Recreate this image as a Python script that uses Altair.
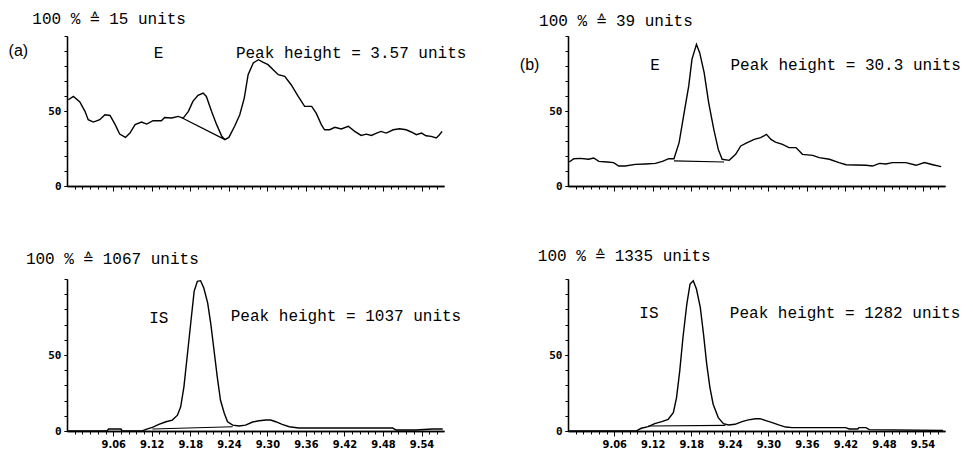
import altair as alt
import pandas as pd

# ---------------- axis definitions (retention time in seconds, 9.06 = 9 min 06 s) ----
X_DOMAIN = [538.8, 597.5]
major_values = [546, 552, 558, 564, 570, 576, 582, 588, 594]
tick_labels = ["9.06", "9.12", "9.18", "9.24", "9.30", "9.36", "9.42", "9.48", "9.54"]
minor_values = [round(540.0 + 1.2 * k, 1) for k in range(48)]
y_tick_values = [0, 10, 20, 30, 40, 50, 60, 70, 80, 90, 100]
y_label_values = [0, 50]

# ---------------- panel (a): E, 100 % = 15 units ----------------
a_t = [539.0, 539.8, 540.8, 541.6, 542.1, 542.9, 543.9, 544.7, 545.5, 546.3, 547.0, 547.9,
       548.6, 549.4, 550.4, 551.2, 552.2, 553.5, 554.0, 555.1, 556.1, 556.9, 557.7, 558.4,
       559.2, 560.0, 560.5, 561.3, 562.1, 562.9, 563.4, 564.0, 564.9, 565.7, 566.4, 567.0,
       567.8, 568.6, 569.3, 570.1, 570.9, 571.7, 572.7, 573.7, 574.8, 575.8, 576.9, 577.6,
       578.4, 578.9, 579.7, 580.5, 581.5, 582.6, 583.6, 584.6, 585.4, 586.2, 587.0, 587.7,
       588.5, 589.6, 590.6, 591.6, 592.4, 593.2, 594.0, 594.7, 595.5, 596.3, 596.8, 597.2]
a_y = [57.5, 59.7, 56.0, 49.8, 44.2, 42.6, 44.2, 47.5, 47.0, 40.9, 34.6, 32.4,
       35.3, 40.9, 42.6, 41.3, 43.5, 43.5, 45.7, 45.3, 46.4, 45.3, 49.8, 56.4,
       60.4, 62.0, 59.7, 49.8, 40.9, 33.1, 30.9, 32.4, 39.8, 47.5, 58.6, 74.2,
       82.0, 84.2, 82.6, 80.9, 77.5, 74.2, 73.1, 67.5, 59.7, 53.1, 53.1, 48.6,
       40.9, 37.5, 37.5, 39.1, 38.0, 39.8, 36.4, 33.7, 34.6, 33.7, 35.3, 36.4,
       35.3, 37.5, 38.2, 37.5, 36.0, 34.2, 35.3, 33.5, 33.1, 32.0, 34.2, 36.4]
a_base_t = [556.6, 563.4]
a_base_y = [45.7, 30.9]

# ---------------- panel (b): E, 100 % = 39 units ----------------
b_t = [539.0, 539.7, 540.7, 542.0, 542.8, 543.6, 544.9, 545.9, 546.7, 547.7, 549.3, 550.9,
       552.4, 553.5, 554.5, 555.3, 556.1, 556.8, 557.6, 558.1, 558.8, 559.3, 560.0, 560.7,
       561.5, 562.2, 562.8, 563.9, 564.9, 565.7, 566.7, 567.8, 568.8, 569.7, 570.4, 571.1,
       572.2, 573.2, 574.3, 575.3, 576.9, 577.9, 579.5, 581.0, 582.1, 583.6, 585.2, 586.2,
       587.3, 588.3, 589.3, 591.4, 593.0, 594.3, 595.6, 596.9]
b_y = [16.0, 18.2, 18.4, 17.8, 18.7, 16.4, 16.0, 15.6, 13.3, 13.3, 14.4, 14.7,
       15.1, 16.4, 18.2, 18.2, 28.9, 46.7, 66.7, 84.4, 94.4, 88.9, 75.6, 55.6,
       37.8, 24.4, 17.8, 17.1, 21.1, 26.7, 28.9, 31.1, 32.2, 34.4, 31.1, 29.3,
       27.8, 25.6, 25.6, 21.1, 20.4, 18.9, 17.8, 15.6, 14.2, 14.0, 13.8, 13.3,
       15.1, 14.7, 15.6, 15.6, 13.8, 15.6, 14.2, 12.9]
b_base_t = [555.3, 563.1]
b_base_y = [16.7, 16.0]

# ---------------- panel (a) lower: IS, 100 % = 1067 units ----------------
c_t = [539.0, 543.8, 545.0, 545.3, 547.2, 547.4, 550.5, 551.1, 552.1, 553.1, 554.2, 555.2,
       556.0, 556.5, 557.0, 557.5, 558.1, 558.6, 559.1, 559.6, 560.1, 560.7, 561.2, 561.7,
       562.2, 562.7, 563.3, 563.8, 564.6, 565.6, 566.6, 567.7, 568.7, 569.8, 570.5, 571.3,
       572.3, 573.4, 574.9, 580.1, 585.3, 589.5, 590.0, 593.1, 595.7, 597.3]
c_y = [0, 0, 0, 1.3, 1.3, 0, 0, 1.1, 2.4, 4.3, 6.1, 7.2,
       10.4, 15.9, 28.9, 48.5, 72.4, 92.0, 98.5, 98.9, 94.1, 84.3, 70.2, 52.8,
       35.4, 20.2, 11.5, 6.1, 3.9, 3.3, 3.9, 5.9, 6.7, 7.2, 7.2, 6.1,
       4.3, 2.8, 2.0, 2.0, 2.0, 2.0, 0.7, 0.7, 1.3, 1.3]
c_base_t = [552.1, 564.6]
c_base_y = [1.3, 2.8]

# ---------------- panel (b) lower: IS, 100 % = 1335 units ----------------
d_t = [539.0, 549.4, 550.2, 551.3, 552.3, 553.4, 554.4, 555.2, 555.7, 556.2, 556.7, 557.3,
       557.8, 558.3, 558.8, 559.4, 559.9, 560.4, 560.9, 561.4, 562.2, 563.0, 563.8, 564.8,
       565.9, 566.9, 568.0, 568.7, 569.5, 570.6, 571.6, 572.7, 573.7, 578.9, 582.0, 582.6,
       583.9, 584.1, 585.2, 585.7, 597.2]
d_y = [0, 0, 1.8, 2.9, 4.8, 6.2, 7.7, 12.1, 22.0, 39.6, 61.5, 83.5,
       96.7, 98.9, 93.4, 81.3, 63.7, 44.0, 28.6, 17.6, 8.8, 4.8, 4.0, 4.4,
       6.2, 7.3, 8.1, 8.1, 7.0, 5.5, 4.0, 2.6, 2.2, 2.2, 2.2, 1.3,
       1.3, 2.2, 2.2, 0.9, 0.4]
d_base_t = [551.3, 563.3]
d_base_y = [3.3, 3.7]

# ---------------- annotation texts ----------------
a_text = ["100 % \u2259 15 units", "E", "Peak height = 3.57 units"]
a_text_t = [533.4, 552.3, 565.1]
a_text_y = [111.3, 88.7, 88.7]
b_text = ["100 % \u2259 39 units", "E", "Peak height = 30.3 units"]
b_text_t = [534.3, 551.6, 564.1]
b_text_y = [110.0, 80.7, 80.7]
c_text = ["100 % \u2259 1067 units", "IS", "Peak height = 1037 units"]
c_text_t = [532.4, 551.6, 564.3]
c_text_y = [113.1, 74.5, 75.8]
d_text = ["100 % \u2259 1335 units", "IS", "Peak height = 1282 units"]
d_text_t = [534.1, 549.9, 564.0]
d_text_y = [115.1, 77.6, 77.6]
tags = ["(a)", "(b)"]
tag_t = [529.7, 531.3]
tag_y = [90.0, 80.7]

MONO = "Liberation Mono, DejaVu Sans Mono, monospace"
TICKFONT = "DejaVu Sans Condensed, DejaVu Sans, sans-serif"

label_expr = " : ".join(
    f"datum.value == {v} ? '{lab}'" for v, lab in zip(major_values, tick_labels)
) + " : ''"


def make_panel(t, y, bt, by, texts, tt, ty, tag, tag_pos, show_labels, height):
    trace = pd.DataFrame({"t": t, "y": y})
    base = pd.DataFrame({"t": bt, "y": by})
    tdf = pd.DataFrame({"t": tt, "y": ty, "label": texts})
    xs = alt.Scale(domain=X_DOMAIN, nice=False, zero=False)
    ys = alt.Scale(domain=[0, 100], nice=False, zero=False)

    x_major = alt.Axis(
        orient="bottom", values=major_values, tickSize=5, labels=show_labels,
        labelExpr=label_expr, labelFont=TICKFONT, labelFontSize=11, labelFontWeight="bold",
        labelPadding=2, labelFlush=False, labelOverlap=False, grid=False, title=None,
    )
    x_minor = alt.Axis(
        orient="bottom", values=minor_values, tickSize=3, labels=False,
        grid=False, title=None,
    )
    y_ticks = alt.Axis(
        orient="left", values=y_tick_values, tickSize=3, labels=False,
        grid=False, title=None,
    )
    y_labels = alt.Axis(
        orient="left", values=y_label_values, tickSize=3, labelFont="DejaVu Sans Mono",
        labelFontSize=11, labelFontWeight="bold", labelPadding=3, labelOverlap=False,
        grid=False, title=None,
    )

    line = alt.Chart(trace).mark_line(color="black", strokeWidth=1.4, clip=True).encode(
        x=alt.X("t:Q", scale=xs, axis=x_major), y=alt.Y("y:Q", scale=ys, axis=y_ticks)
    )
    bl = alt.Chart(base).mark_line(color="black", strokeWidth=1.2).encode(
        x=alt.X("t:Q", scale=xs, axis=x_minor), y=alt.Y("y:Q", scale=ys, axis=y_labels)
    )
    txt = alt.Chart(tdf).mark_text(
        align="left", baseline="middle", font=MONO, fontSize=16, color="black"
    ).encode(
        x=alt.X("t:Q", scale=xs, axis=None), y=alt.Y("y:Q", scale=ys, axis=None),
        text="label:N",
    )
    layers = [line, bl, txt]
    if tag is not None:
        tg = pd.DataFrame({"t": [tag_pos[0]], "y": [tag_pos[1]], "label": [tag]})
        layers.append(
            alt.Chart(tg).mark_text(
                align="left", baseline="middle", font="Liberation Sans, Arial, sans-serif",
                fontSize=16, color="black"
            ).encode(
                x=alt.X("t:Q", scale=xs, axis=None), y=alt.Y("y:Q", scale=ys, axis=None),
                text="label:N",
            )
        )
    return (
        alt.layer(*layers)
        .resolve_axis(x="independent", y="independent")
        .properties(width=377, height=height)
    )


pa = make_panel(a_t, a_y, a_base_t, a_base_y, a_text, a_text_t, a_text_y,
                tags[0], (tag_t[0], tag_y[0]), False, 150)
pb = make_panel(b_t, b_y, b_base_t, b_base_y, b_text, b_text_t, b_text_y,
                tags[1], (tag_t[1], tag_y[1]), False, 150)
pc = make_panel(c_t, c_y, c_base_t, c_base_y, c_text, c_text_t, c_text_y,
                None, None, True, 152)
pd_ = make_panel(d_t, d_y, d_base_t, d_base_y, d_text, d_text_t, d_text_y,
                 None, None, True, 152)

chart = (
    alt.concat(pa, pb, pc, pd_, columns=2, spacing={"row": 93, "column": 124}, bounds="flush")
    .properties(padding={"left": 0, "top": 3, "right": 0, "bottom": 0}, background="white")
    .configure_view(stroke=None)
    .configure_axis(domainColor="black", domainWidth=1.3, tickColor="black",
                    tickWidth=1, labelColor="black", labelOverlap=False)
)

chart.save("out.html", embed_options={"renderer": "svg", "actions": False})
